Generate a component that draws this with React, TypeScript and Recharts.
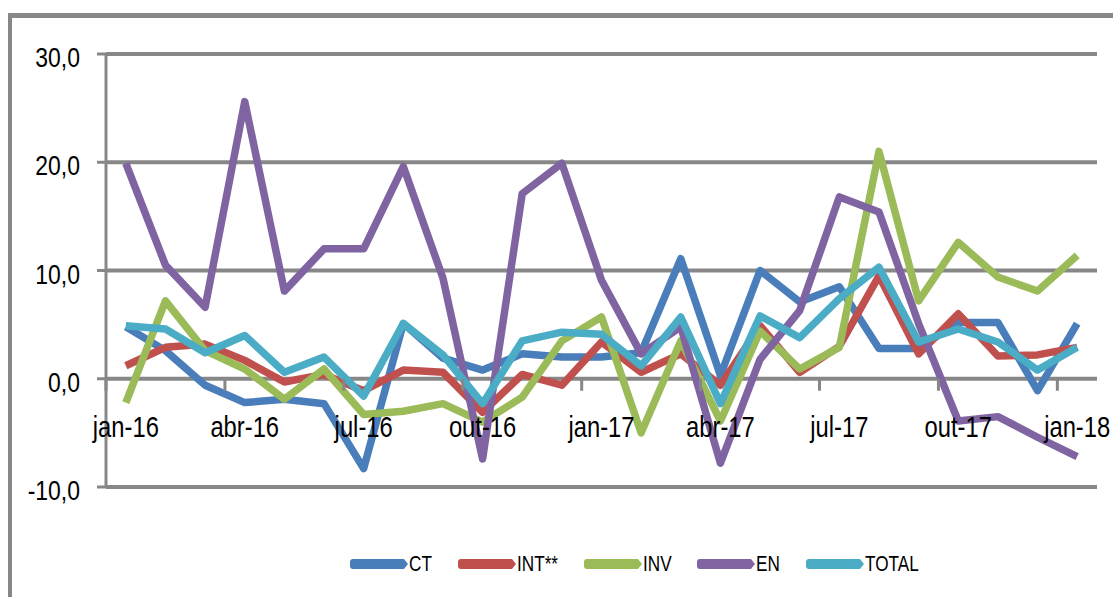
import { CartesianGrid, Legend, Line, LineChart, XAxis, YAxis } from "recharts";

const months = [
  "jan-16", "fev-16", "mar-16", "abr-16", "mai-16", "jun-16", "jul-16", "ago-16", "set-16",
  "out-16", "nov-16", "dez-16", "jan-17", "fev-17", "mar-17", "abr-17", "mai-17", "jun-17",
  "jul-17", "ago-17", "set-17", "out-17", "nov-17", "dez-17", "jan-18",
];

const ct = [4.8, 2.6, -0.6, -2.2, -1.9, -2.3, -8.3, 5.1, 1.9, 0.8, 2.3, 2.0, 2.0, 2.4, 11.1, 0.3, 10.0, 7.1, 8.5, 2.8, 2.8, 5.2, 5.2, -1.1, 5.1];
const intl = [1.2, 2.9, 3.2, 1.7, -0.3, 0.4, -1.1, 0.8, 0.6, -3.1, 0.4, -0.6, 3.4, 0.6, 2.3, -0.6, 4.9, 0.6, 3.0, 9.5, 2.3, 6.0, 2.1, 2.2, 2.9];
const inv = [-2.2, 7.2, 2.6, 0.9, -1.9, 0.9, -3.3, -3.0, -2.3, -4.0, -1.7, 3.5, 5.7, -5.0, 3.5, -3.9, 4.4, 0.9, 2.9, 21.0, 7.2, 12.6, 9.4, 8.1, 11.4];
const en = [19.9, 10.5, 6.6, 25.6, 8.1, 12.0, 12.0, 19.6, 9.3, -7.4, 17.1, 19.9, 9.1, 2.3, 4.8, -7.8, 1.8, 6.3, 16.8, 15.4, 5.1, -3.9, -3.5, -5.4, -7.2];
const total = [4.9, 4.6, 2.4, 4.0, 0.6, 2.0, -1.6, 5.1, 2.2, -2.3, 3.5, 4.3, 4.1, 1.2, 5.7, -2.3, 5.8, 3.8, 7.4, 10.3, 3.4, 4.6, 3.4, 0.8, 2.9];

const yTicks = [-10, 0, 10, 20, 30];

const series = [
  { key: "CT", values: ct, color: "#4a7ebb" },
  { key: "INT**", values: intl, color: "#c0504d" },
  { key: "INV", values: inv, color: "#9bbb59" },
  { key: "EN", values: en, color: "#8064a2" },
  { key: "TOTAL", values: total, color: "#4bacc6" },
];

const data = months.map((m, i) => {
  const row: Record<string, string | number> = { month: m };
  for (const s of series) row[s.key] = s.values[i];
  return row;
});

// no narrow font installed: squeeze Liberation Sans horizontally instead
const FONT = "'Liberation Sans', Arial, sans-serif";
const SQUEEZE = 0.82;
const GRAY = "#878787";

// plot geometry, used only to place the month labels on the zero line
const W = 1113;
const H = 597;
const PLOT_LEFT = 106;
const PLOT_RIGHT = 1097;
const PLOT_TOP = 54;
const PLOT_BOTTOM = 487;
const ZERO_Y = PLOT_TOP + ((PLOT_BOTTOM - PLOT_TOP) * 30) / 40;
const BAND = (PLOT_RIGHT - PLOT_LEFT) / months.length;

function MonthTick(props: any) {
  const { x, index, payload } = props;
  if (index % 3 !== 0) return null;
  const bx = x - BAND / 2;
  return (
    <g>
      <line x1={bx} x2={bx} y1={ZERO_Y} y2={ZERO_Y + 12} stroke={GRAY} strokeWidth={3} />
      <text
        transform={`translate(${x},${ZERO_Y + 58}) scale(${SQUEEZE},1)`}
        textAnchor="middle"
        fontFamily={FONT}
        fontSize={29}
        fill="#000"
      >
        {payload.value}
      </text>
    </g>
  );
}

function ValueTick(props: any) {
  const { x, y, payload } = props;
  return (
    <text
      transform={`translate(${x},${y + 3}) scale(${SQUEEZE},1)`}
      textAnchor="end"
      dy="0.36em"
      fontFamily={FONT}
      fontSize={28}
      fill="#000"
    >
      {(payload.value as number).toFixed(1).replace(".", ",")}
    </text>
  );
}

const LEGEND_FONT = 22;
const LEGEND_SQUEEZE = 0.78;

function textWidth(t: string) {
  const ctx = document.createElement("canvas").getContext("2d");
  if (!ctx) return t.length * 12;
  ctx.font = `${LEGEND_FONT}px 'Liberation Sans'`;
  return ctx.measureText(t).width * LEGEND_SQUEEZE;
}

function LegendContent() {
  return (
    <div style={{ display: "flex", justifyContent: "flex-start", gap: 25, fontFamily: FONT, fontSize: LEGEND_FONT, color: "#000" }}>
      {series.map((s) => (
        <div key={s.key} style={{ display: "flex", alignItems: "center" }}>
          <svg width={60} height={12}>
            <path d="M4 1 H55 L59 6 L55 11 H4 Q1 11 1 8 V4 Q1 1 4 1 Z" fill={s.color} />
          </svg>
          <div style={{ width: textWidth(s.key), overflow: "visible", whiteSpace: "nowrap" }}>
            <span
              style={{
                display: "inline-block",
                lineHeight: "24px",
                transform: `scaleX(${LEGEND_SQUEEZE})`,
                transformOrigin: "left center",
              }}
            >
              {s.key}
            </span>
          </div>
        </div>
      ))}
    </div>
  );
}

export default function App() {
  return (
    <div style={{ position: "absolute", left: 0, top: 0, width: W, height: H, background: "#fff", overflow: "hidden" }}>
      <div
        style={{
          position: "absolute",
          left: 8,
          top: 13,
          width: W,
          height: H,
          borderTop: `5px solid ${GRAY}`,
          borderLeft: `4px solid ${GRAY}`,
        }}
      />
      <div style={{ position: "absolute", left: 0, top: 0 }}>
        <LineChart
          width={W}
          height={H}
          data={data}
          margin={{ top: PLOT_TOP, right: W - PLOT_RIGHT, bottom: H - PLOT_BOTTOM - 30, left: PLOT_LEFT - 80 }}
        >
          <CartesianGrid vertical={false} stroke={GRAY} strokeWidth={4} />
          <XAxis
            dataKey="month"
            scale="band"
            interval={0}
            axisLine={false}
            tickLine={false}
            height={30}
            tick={<MonthTick />}
          />
          <YAxis
            domain={[-10, 30]}
            ticks={yTicks}
            width={80}
            axisLine={{ stroke: GRAY, strokeWidth: 3 }}
            tickLine={{ stroke: GRAY, strokeWidth: 3 }}
            tickSize={9}
            tickMargin={17}
            tick={<ValueTick />}
          />
          <Legend
            verticalAlign="middle"
            layout="horizontal"
            wrapperStyle={{ top: 551, left: 349, width: 600 }}
            content={<LegendContent />}
          />
          {series.map((s) => (
            <Line
              key={s.key}
              dataKey={s.key}
              type="linear"
              stroke={s.color}
              strokeWidth={7.5}
              strokeLinejoin="round"
              dot={false}
              activeDot={false}
              isAnimationActive={false}
            />
          ))}
        </LineChart>
      </div>
    </div>
  );
}
